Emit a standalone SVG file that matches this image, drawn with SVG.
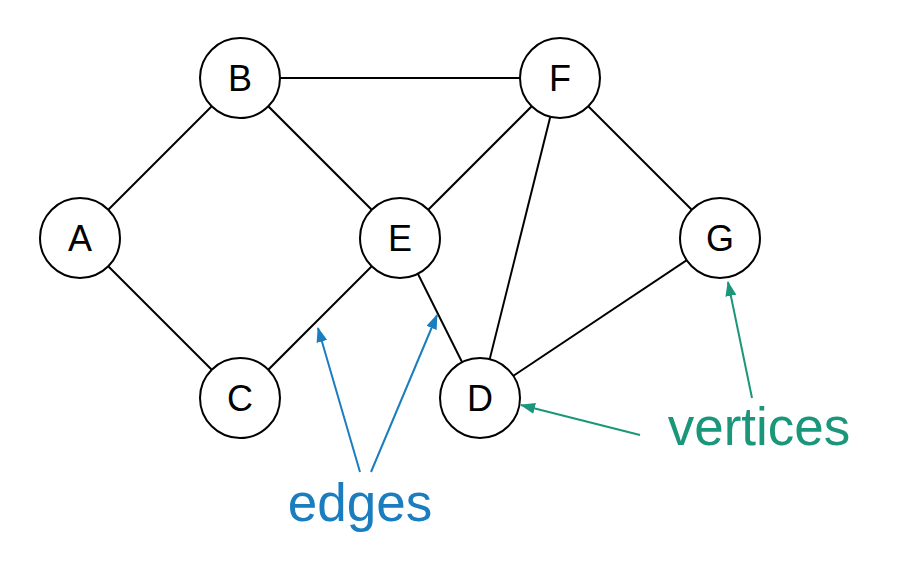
<svg xmlns="http://www.w3.org/2000/svg" width="920" height="574" viewBox="0 0 920 574">
  <defs>
    <marker id="arrBlue" viewBox="0 0 15 11" refX="14" refY="5.5" markerWidth="15" markerHeight="11" markerUnits="userSpaceOnUse" orient="auto">
      <path d="M0,0 L15,5.5 L0,11 Z" fill="#1a7dbf"/>
    </marker>
    <marker id="arrGreen" viewBox="0 0 15 11" refX="14" refY="5.5" markerWidth="15" markerHeight="11" markerUnits="userSpaceOnUse" orient="auto">
      <path d="M0,0 L15,5.5 L0,11 Z" fill="#1a967a"/>
    </marker>
    <style>
      .edge { stroke: #000; stroke-width: 2; fill: none; }
      .node circle { fill: #fff; stroke: #000; stroke-width: 2; }
      .node text { font-family: "Liberation Sans", Arial, sans-serif; font-size: 36px; text-anchor: middle; fill: #000; }
      .ptr-blue { stroke: #1a7dbf; stroke-width: 2; fill: none; }
      .ptr-green { stroke: #1a967a; stroke-width: 2; fill: none; }
      .lbl { font-family: "Liberation Sans", Arial, sans-serif; font-size: 53px; text-anchor: middle; }
    </style>
  </defs>
  <rect width="920" height="574" fill="#fff"/>

  <!-- graph edges -->
  <g id="connectors">
    <line class="edge" x1="240" y1="78" x2="560" y2="78"/>
    <line class="edge" x1="240" y1="78" x2="80" y2="238"/>
    <line class="edge" x1="240" y1="78" x2="400" y2="238"/>
    <line class="edge" x1="80" y1="238" x2="240" y2="398"/>
    <line class="edge" x1="240" y1="398" x2="400" y2="238"/>
    <line class="edge" x1="400" y1="238" x2="560" y2="78"/>
    <line class="edge" x1="400" y1="238" x2="480" y2="398"/>
    <line class="edge" x1="560" y1="78" x2="480" y2="398"/>
    <line class="edge" x1="560" y1="78" x2="720" y2="238"/>
    <line class="edge" x1="720" y1="238" x2="480" y2="398"/>
  </g>

  <!-- vertices -->
  <g id="node-B" class="node"><circle cx="240" cy="78" r="40"/><text x="240" y="91">B</text></g>
  <g id="node-F" class="node"><circle cx="560" cy="78" r="40"/><text x="560" y="91">F</text></g>
  <g id="node-A" class="node"><circle cx="80" cy="238" r="40"/><text x="80" y="251">A</text></g>
  <g id="node-E" class="node"><circle cx="400" cy="238" r="40"/><text x="400" y="251">E</text></g>
  <g id="node-G" class="node"><circle cx="720" cy="238" r="40"/><text x="720" y="251">G</text></g>
  <g id="node-C" class="node"><circle cx="240" cy="398" r="40"/><text x="240" y="411">C</text></g>
  <g id="node-D" class="node"><circle cx="480" cy="398" r="40"/><text x="480" y="411">D</text></g>

  <!-- annotations -->
  <g id="label-edges">
    <line class="ptr-blue" x1="360" y1="472" x2="318" y2="328" marker-end="url(#arrBlue)"/>
    <line class="ptr-blue" x1="371" y1="472" x2="437" y2="315" marker-end="url(#arrBlue)"/>
    <text class="lbl" x="360" y="521" fill="#1a7dbf">edges</text>
  </g>
  <g id="label-vertices">
    <line class="ptr-green" x1="640" y1="435" x2="521" y2="405" marker-end="url(#arrGreen)"/>
    <line class="ptr-green" x1="752" y1="398" x2="728" y2="282" marker-end="url(#arrGreen)"/>
    <text class="lbl" x="759" y="445" fill="#1a967a">vertices</text>
  </g>
</svg>
